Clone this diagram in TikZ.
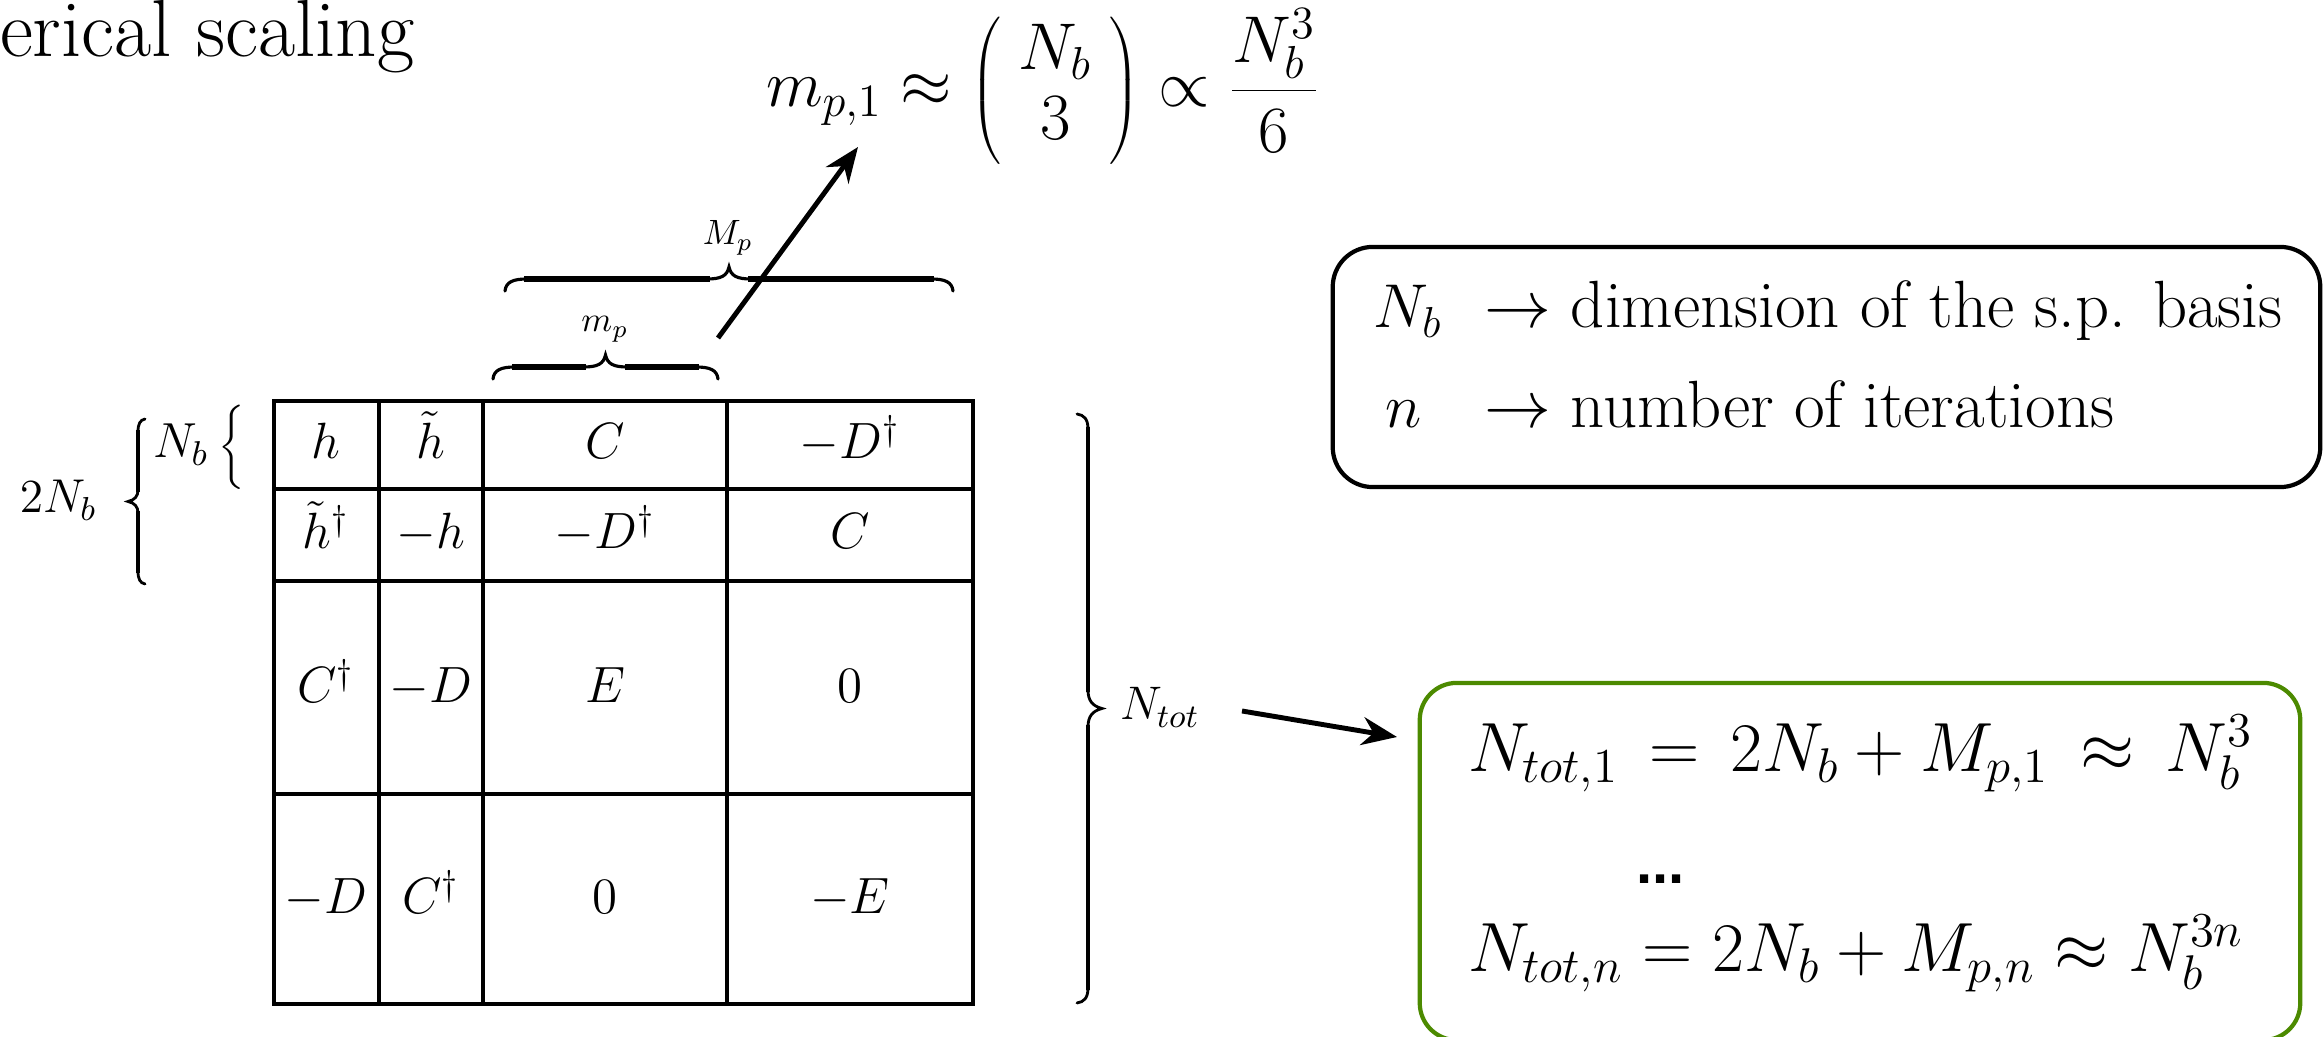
\RequirePackage{fix-cm}
\documentclass[tikz,border=0pt]{standalone}
\usepackage{fontspec}
\newfontfamily\arialfont{Liberation Sans}
\usetikzlibrary{arrows.meta}
\definecolor{boxgreen}{RGB}{76,138,0}
\delimiterfactor=1000
\delimitershortfall=0pt
\newcommand{\lbr}[1]{\left\{\vcenter{\hbox{\vrule height #1 width 0pt}}\right.}
\begin{document}
\begin{tikzpicture}[x=0.01cm, y=-0.01cm,
  every node/.style={inner sep=0pt, outer sep=0pt},
  tbl/.style={line width=0.9pt},
  cell/.style={anchor=base, font=\fontsize{14.5}{17}\selectfont},
  arr/.style={line width=1.4pt, -{Stealth[length=10pt, width=8pt]}},
  legtext/.style={anchor=base west, font=\fontsize{19}{23}\selectfont},
  eqtext/.style={anchor=base west, font=\fontsize{19.8}{24}\selectfont},
  brcurl/.style={line width=0.9pt, line cap=round},
  brbar/.style={line width=1.9pt},
  vbrcurl/.style={line width=0.8pt, line cap=round},
  vbrstem/.style={line width=1.3pt},
  lab/.style={anchor=base, font=\fontsize{10}{12}\selectfont}]
\useasboundingbox (0,0) rectangle (2323,1037);

% title
\node[anchor=base west, font=\fontsize{23}{27}\selectfont] (title) at (0,57) {erical scaling};

% top formula
\node[anchor=base west, font=\fontsize{18.8}{20}\selectfont] (mform) at (766,107)
  {$\displaystyle m_{p,1} \approx \left(\begin{array}{c} N_b\\ 3 \end{array}\right) \propto \frac{N_b^3}{6}$};

% table grid
\draw[tbl] (274,401) rectangle (973,1004);
\draw[tbl] (274,489) -- (973,489);
\draw[tbl] (274,581) -- (973,581);
\draw[tbl] (274,794) -- (973,794);
\draw[tbl] (379,401) -- (379,1004);
\draw[tbl] (483,401) -- (483,1004);
\draw[tbl] (727,401) -- (727,1004);

% cells
\node[cell] (c11) at (326,459) {$h$};
\node[cell] (c12) at (431,459) {$\tilde h$};
\node[cell] (c13) at (605,459) {$C$};
\node[cell] (c14) at (850,459) {$-D^\dagger$};
\node[cell] (c21) at (326,549) {$\tilde h^\dagger$};
\node[cell] (c22) at (431,549) {$-h$};
\node[cell] (c23) at (605,549) {$-D^\dagger$};
\node[cell] (c24) at (850,549) {$C$};
\node[cell] (c31) at (326,703) {$C^\dagger$};
\node[cell] (c32) at (431,703) {$-D$};
\node[cell] (c33) at (605,703) {$E$};
\node[cell] (c34) at (850,703) {$0$};
\node[cell] (c41) at (326,914) {$-D$};
\node[cell] (c42) at (431,914) {$C^\dagger$};
\node[cell] (c43) at (605,914) {$0$};
\node[cell] (c44) at (850,914) {$-E$};

% top braces (M_p)
\draw[brcurl] (505,291) .. controls (506,282) and (513,279) .. (527,279) -- (707,279)
  .. controls (721,279) and (727,276) .. (729,267)
  .. controls (731,276) and (737,279) .. (751,279) -- (931,279)
  .. controls (945,279) and (952,282) .. (953,291);
\draw[brbar] (524,279) -- (710,279) (748,279) -- (934,279);
\node[lab] (Mlab) at (728,245) {$M_p$};
% top braces (m_p)
\draw[brcurl] (493,379) .. controls (494,370) and (501,367) .. (515,367) -- (583.5,367)
  .. controls (597.5,367) and (603.5,364) .. (605.5,355)
  .. controls (607.5,364) and (613.5,367) .. (627.5,367) -- (696,367)
  .. controls (710,367) and (717,370) .. (718,379);
\draw[brbar] (512,367) -- (586,367) (625,367) -- (699,367);
\node[lab] (mlab) at (605,332) {$m_p$};

% left braces
\node[anchor=base west, font=\fontsize{13.5}{16}\selectfont] (twoNb) at (20,513) {$2N_b$};
\draw[vbrcurl] (145,419) .. controls (140,420) and (138,424) .. (138,432) -- (138,490)
  .. controls (138,496) and (135,500) .. (128,501.5)
  .. controls (135,503) and (138,507) .. (138,513) -- (138,571)
  .. controls (138,579) and (140,583) .. (145,584);
\draw[vbrstem] (138,430) -- (138,492) (138,511) -- (138,573);
\node[anchor=base west, font=\fontsize{14}{17}\selectfont] (Nb) at (153,458) {$N_b$};
\node[font=\fontsize{13}{16}\selectfont] (smbr) at (234,447.5) {$\lbr{23pt}$};

% right brace
\draw[vbrcurl] (1077,414) .. controls (1084,415) and (1088,419) .. (1088,429) -- (1088,690)
  .. controls (1088,700) and (1092,706) .. (1102,708.5)
  .. controls (1092,711) and (1088,717) .. (1088,727) -- (1088,988)
  .. controls (1088,998) and (1084,1002) .. (1077,1003);
\draw[vbrstem] (1088,427) -- (1088,692) (1088,725) -- (1088,990);
\node[anchor=base west, font=\fontsize{13.4}{16}\selectfont] (ntot) at (1120,720) {$N_{tot}$};

% legend box
\node[draw, line width=1.2pt, rounded corners=0.4cm, minimum width=9.87cm, minimum height=2.4cm] (legend) at (1826.5,367) {};
\node[anchor=base, font=\fontsize{17.6}{21}\selectfont] (lgN) at (1408,328) {$N_b$};
\node[anchor=base, font=\fontsize{17.6}{21}\selectfont] (lgn) at (1404,428) {$n$};
\node[legtext] (lgt1) at (1484,328) {$\rightarrow$\hspace{0.3em}dimension of the s.p. basis};
\node[legtext] (lgt2) at (1484,428) {$\rightarrow$\hspace{0.3em}number of iterations};

% result box
\node[draw=boxgreen, line width=1.2pt, rounded corners=0.37cm, minimum width=8.8cm, minimum height=3.57cm] (result) at (1860,861.5) {};
\node[eqtext] (eq1) at (1468,772) {$N_{tot,1} \,=\, 2N_b + M_{p,1} \,\approx\, N_b^3$};
\node[anchor=base west, font=\arialfont\bfseries\fontsize{16.5}{20}\selectfont] (dots) at (1636,884) {...};
\node[eqtext] (eq3) at (1468,972) {$N_{tot,n} = 2N_b + M_{p,n} \approx N_b^{3n}$};

% arrows
\coordinate (a1s) at (1242,711);
\coordinate (a1e) at (1397,737);
\draw[arr] (a1s) -- (a1e);
\coordinate (a2s) at (718,338);
\coordinate (a2e) at (858,147);
\draw[arr] (a2s) -- (a2e);
\end{tikzpicture}
\end{document}
